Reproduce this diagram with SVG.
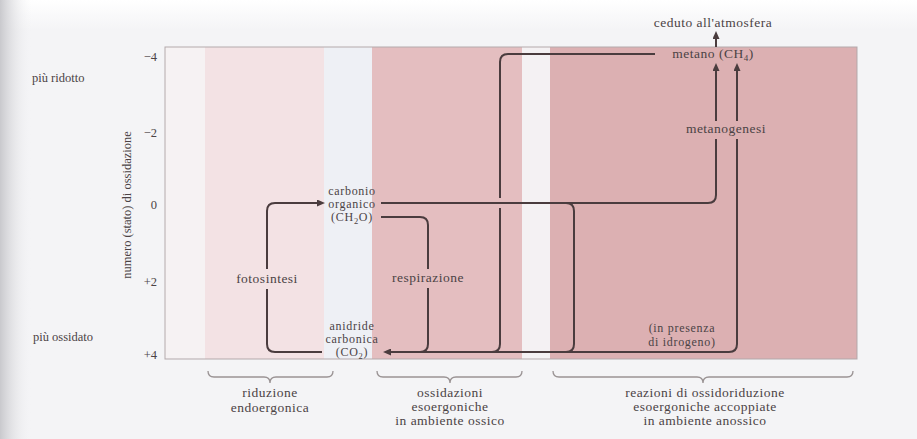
<svg xmlns="http://www.w3.org/2000/svg" width="917" height="439" viewBox="0 0 917 439">
  <defs>
    <linearGradient id="gutter" x1="0" y1="0" x2="1" y2="0">
      <stop offset="0" stop-color="#c9c9cd"/>
      <stop offset="1" stop-color="#f4f4f6" stop-opacity="0"/>
    </linearGradient>
    <linearGradient id="pageTop" x1="0" y1="0" x2="0" y2="1">
      <stop offset="0" stop-color="#ffffff"/>
      <stop offset="1" stop-color="#f4f4f6"/>
    </linearGradient>
    <marker id="head" markerWidth="8" markerHeight="7" refX="4" refY="3.5" orient="auto" markerUnits="userSpaceOnUse">
      <path d="M0,0 L8,3.5 L0,7 z" fill="#4a3c3e"/>
    </marker>
    <style>
      .lbl { font-family: "Liberation Serif", "DejaVu Serif", serif; font-size: 13.5px; letter-spacing: 0.5px; fill: #4b4345; text-anchor: middle; }
      .node { font-family: "Liberation Serif", "DejaVu Serif", serif; font-size: 12px; letter-spacing: 0.7px; fill: #4b4345; text-anchor: middle; }
      .side { font-family: "Liberation Serif", "DejaVu Serif", serif; font-size: 12.5px; fill: #4b4345; }
      .tick { font-family: "Liberation Serif", "DejaVu Serif", serif; font-size: 12.5px; fill: #4b4345; text-anchor: end; }
      .wire { fill: none; stroke: #4a3c3e; stroke-width: 2; }
      .brace { fill: none; stroke: #9a9394; stroke-width: 1.3; }
    </style>
  </defs>

  <!-- page -->
  <rect width="917" height="439" fill="#f4f4f6"/>
  <rect width="917" height="30" fill="url(#pageTop)"/>
  <rect width="32" height="439" fill="url(#gutter)"/>

  <!-- plot field with coloured bands -->
  <g id="field">
    <rect x="165" y="47" width="40" height="312" fill="#f6f2f3"/>
    <rect x="205" y="47" width="119" height="312" fill="#f3e2e4"/>
    <rect x="324" y="47" width="48" height="312" fill="#eef0f5"/>
    <rect x="372" y="47" width="150" height="312" fill="#e4bec0"/>
    <rect x="522" y="47" width="28" height="312" fill="#f4f1f3"/>
    <rect x="550" y="47" width="307" height="312" fill="#dcb0b2"/>
    <rect x="165" y="47" width="692" height="312" fill="none" stroke="#b3a9ab" stroke-width="1"/>
  </g>

  <!-- vertical axis -->
  <g id="axis">
    <text class="side" x="32" y="82">più ridotto</text>
    <text class="side" x="33" y="341">più ossidato</text>
    <text class="tick" x="157" y="61">−4</text>
    <text class="tick" x="157" y="137">−2</text>
    <text class="tick" x="157" y="209">0</text>
    <text class="tick" x="157" y="286">+2</text>
    <text class="tick" x="157" y="359">+4</text>
    <text class="side" text-anchor="middle" transform="translate(131,205) rotate(-90)">numero (stato) di ossidazione</text>
  </g>

  <!-- connectors -->
  <g id="connectors">
    <!-- fotosintesi: CO2 -> carbonio organico -->
    <path class="wire" d="M322 352 H275 Q267 352 267 344 V289"/>
    <path class="wire" d="M267 269 V211 Q267 203 275 203 H321" marker-end="url(#head)"/>
    <!-- respirazione: CH2O -> CO2 -->
    <path class="wire" d="M381 217 H420 Q428 217 428 225 V269"/>
    <path class="wire" d="M428 288 V344 Q428 352 420 352"/>
    <!-- carbonio organico -> metano -->
    <path class="wire" d="M381 203 H708 Q716 203 716 195 V139"/>
    <path class="wire" d="M716 121 V67" marker-end="url(#head)"/>
    <!-- ossidazione anossica -> CO2 -->
    <path class="wire" d="M566 203 Q574 203 574 211 V344 Q574 352 566 352"/>
    <!-- metano -> CO2 -->
    <path class="wire" d="M655 54 H508 Q500 54 500 62 V198"/>
    <path class="wire" d="M500 208 V344 Q500 352 492 352"/>
    <!-- bottom track into CO2 and CO2 + H2 -> metano -->
    <path class="wire" d="M737 139 V344 Q737 352 729 352 H387" marker-end="url(#head)"/>
    <path class="wire" d="M737 121 V67" marker-end="url(#head)"/>
    <!-- metano -> atmosfera -->
    <path class="wire" d="M716 47 V35" marker-end="url(#head)"/>
  </g>

  <!-- nodes -->
  <g id="carbonio-organico">
    <text class="node" x="352" y="195">carbonio</text>
    <text class="node" x="352" y="208">organico</text>
    <text class="node" x="352" y="221">(CH<tspan font-size="8.5" dy="2.5">2</tspan><tspan dy="-2.5">O)</tspan></text>
  </g>
  <g id="anidride-carbonica">
    <text class="node" x="352" y="330">anidride</text>
    <text class="node" x="352" y="343">carbonica</text>
    <text class="node" x="352" y="356">(CO<tspan font-size="8.5" dy="2.5">2</tspan><tspan dy="-2.5">)</tspan></text>
  </g>
  <g id="metano">
    <text class="lbl" x="713" y="58">metano (CH<tspan font-size="9" dy="3">4</tspan><tspan dy="-3">)</tspan></text>
  </g>
  <g id="atmosfera">
    <text class="lbl" x="713" y="27">ceduto all'atmosfera</text>
  </g>

  <!-- process labels -->
  <g id="fotosintesi"><text class="lbl" x="267" y="283">fotosintesi</text></g>
  <g id="respirazione"><text class="lbl" x="428" y="282">respirazione</text></g>
  <g id="metanogenesi"><text class="lbl" x="726" y="133">metanogenesi</text></g>
  <g id="idrogeno">
    <text class="node" x="682" y="332">(in presenza</text>
    <text class="node" x="682" y="346">di idrogeno)</text>
  </g>

  <!-- groupings below the field -->
  <g id="riduzione">
    <path class="brace" d="M208 371 Q208 377 214 377 H264 Q270 377 270 383 Q270 377 276 377 H327 Q333 377 333 371"/>
    <text class="lbl" x="270" y="397">riduzione</text>
    <text class="lbl" x="270" y="412">endoergonica</text>
  </g>
  <g id="ossidazioni">
    <path class="brace" d="M377 371 Q377 377 383 377 H444 Q450 377 450 383 Q450 377 456 377 H516 Q522 377 522 371"/>
    <text class="lbl" x="450" y="397">ossidazioni</text>
    <text class="lbl" x="450" y="411">esoergoniche</text>
    <text class="lbl" x="450" y="425">in ambiente ossico</text>
  </g>
  <g id="ossidoriduzione">
    <path class="brace" d="M553 371 Q553 377 559 377 H697 Q703 377 703 383 Q703 377 709 377 H847 Q853 377 853 371"/>
    <text class="lbl" x="705" y="397">reazioni di ossidoriduzione</text>
    <text class="lbl" x="705" y="411">esoergoniche accoppiate</text>
    <text class="lbl" x="705" y="425">in ambiente anossico</text>
  </g>
</svg>
